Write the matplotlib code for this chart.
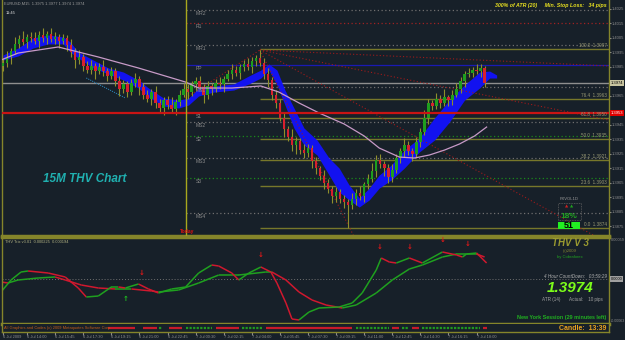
"""EURUSD M15 chart with THV indicator panel (MetaTrader style)."""

import matplotlib.pyplot as plt
from matplotlib.collections import LineCollection
from matplotlib.patches import Rectangle

plt.rcParams["font.family"] = ["Liberation Sans", "DejaVu Sans"]

W, H = 625, 340
BG = "#172029"
OLIVE = "#85852a"
GREY = "#a0a0a0"
BASE = 1.38  # candle values are in pips above this

# --- candles (pips above 1.3800), open = previous close ---
first_open_pips = 186
close_pips = [
    188, 192, 196, 201, 204, 202, 206, 205, 203, 207,
    205, 208, 204, 206, 203, 205, 200, 195, 190, 192,
    186, 183, 186, 182, 185, 182, 179, 182, 175, 170,
    173, 168, 174, 177, 171, 166, 163, 168, 160, 157,
    162, 159, 156, 161, 166, 170, 168, 173, 175, 171,
    166, 172, 170, 174, 173, 177, 180, 183, 181, 185,
    187, 185, 189, 191, 188, 180, 176, 166, 160, 150,
    142, 137, 131, 134, 128, 126, 129, 120, 115, 110,
    105, 101, 96, 99, 94, 92, 90, 94, 98, 96,
    104, 108, 113, 121, 118, 115, 109, 114, 122, 127,
    131, 127, 125, 133, 140, 150, 160, 158, 163, 160,
    164, 162, 166, 170, 175, 180, 181, 183, 182, 184,
    174,
]
wick_up = [
    3, 4, 2, 5, 3, 6, 2, 3, 4, 3,
    5, 2, 4, 3, 2, 3, 2, 4, 3, 5,
    2, 3, 4, 2, 3, 5, 2, 3, 2, 4,
    3, 2, 3, 4, 2, 3, 3, 2, 4, 3,
    2, 3, 5, 2, 3, 4, 3, 2, 3, 4,
    2, 3, 2, 3, 4, 2, 3, 4, 3, 2,
    3, 4, 3, 2, 6, 3, 4, 2, 3, 3,
    4, 2, 5, 3, 2, 4, 3, 2, 3, 2,
    4, 3, 2, 3, 2, 3, 2, 4, 3, 5,
    2, 3, 6, 3, 4, 2, 3, 4, 3, 2,
    5, 3, 2, 4, 3, 5, 3, 2, 4, 3,
    6, 2, 3, 4, 3, 2, 3, 2, 4, 3,
    2,
]
wick_dn = [
    4, 3, 5, 2, 3, 2, 4, 3, 2, 5,
    3, 4, 2, 3, 5, 2, 4, 3, 6, 3,
    4, 2, 3, 5, 2, 3, 4, 2, 3, 5,
    3, 4, 2, 3, 5, 3, 2, 4, 3, 4,
    5, 3, 2, 4, 3, 2, 5, 3, 4, 2,
    6, 3, 4, 2, 3, 5, 2, 3, 2, 4,
    3, 2, 4, 3, 2, 3, 5, 4, 3, 2,
    5, 3, 4, 6, 3, 4, 3, 5, 4, 3,
    4, 3, 5, 4, 3, 4, 16, 3, 4, 3,
    4, 3, 2, 4, 3, 5, 4, 3, 2, 3,
    4, 3, 5, 2, 3, 2, 4, 3, 2, 3,
    2, 4, 3, 2, 3, 4, 2, 3, 2, 4,
    3,
]

# --- pink moving average (pips) ---
ma_bars = [-0.5, 3.75, 13.75, 23.75, 33.75, 45.5, 48.75, 57, 64.25, 68.75,
           73.75, 78.75, 85, 90, 93.75, 98.75, 102.5, 106.25, 110, 113.75,
           117.5, 120.5]
ma_pips = [189.8, 194.6, 198.8, 191.9, 184.3, 174.6, 170.5, 170.5, 171.9, 167.7,
           160.2, 153.3, 145.7, 137.4, 129.1, 122.9, 122.2, 124.3, 127.7, 131.9,
           137.4, 143.6]

# --- blue ribbon (pips) ---
band_bars = [0, 3.75, 7.5, 11.25, 15, 16.75, 18.75, 22.5, 26.25, 30,
             33.75, 36.25, 40, 43.75, 46.25, 48.75, 52.5, 57.5, 61.25, 64.25,
             66.25, 68.25, 70.25, 72.5, 75, 78.25, 81.25, 83.75, 86.25, 88.75,
             91.25, 93.75, 96.75, 100, 103.75, 107.5, 111.25, 115, 118.75, 121.25,
             123]
band_hi = [193.3, 198.1, 205.0, 207.1, 205.7, 202.2, 195.3, 189.8, 184.3, 181.5,
           176.0, 170.5, 163.6, 162.2, 163.6, 170.5, 171.9, 173.3, 178.8, 182.9,
           187.1, 182.9, 169.1, 156.7, 142.9, 134.6, 122.2, 115.3, 103.6, 94.6,
           101.5, 110.5, 117.4, 127.7, 136.0, 149.8, 162.2, 172.6, 181.5, 182.2,
           179.5]
band_lo = [189.8, 192.6, 198.1, 200.9, 200.9, 195.3, 191.2, 184.3, 180.2, 176.0,
           170.5, 164.3, 158.1, 156.7, 158.8, 165.0, 167.7, 169.1, 173.3, 177.4,
           182.9, 172.6, 158.8, 142.9, 131.2, 124.3, 110.5, 98.8, 93.3, 88.4,
           93.3, 101.5, 107.1, 115.3, 126.4, 134.6, 147.1, 162.2, 170.5, 177.4,
           177.4]

# --- pivot levels ---
pivot_names = ["MR2", "R1", "MR1", "PP", "MS1", "S1", "MS2", "S2", "MS3", "S3", "MS4"]
pivot_prices = [1.40243, 1.40153, 1.40002, 1.39864, 1.39712, 1.39533,
                1.39471, 1.39374, 1.39222, 1.39084, 1.38843]
current_price = 1.3974

# --- fibonacci retracement ---
fib_names = ["100.0", "76.4", "61.8", "50.0", "38.2", "23.6", "0.0"]
fib_prices = [1.39974, 1.39629, 1.39498, 1.39353, 1.39209, 1.39029, 1.38740]
fib_start_bar = 64

# --- fan lines (bar0, price0, bar1, price1) ---
fan_lines = [
    (64, 1.39967, 151, 1.39857),
    (64, 1.39967, 151, 1.39484),
    (64, 1.39967, 147.5, 1.38684),
    (64, 1.39967, 87.4, 1.38684),
    (45.5, 1.39636, 64, 1.39967),
]
trend_line = (20.75, 1.39774, 30.5, 1.39636)

# labels at 1.3975 and 1.3955 sit under the price boxes
price_ticks = [1.4025, 1.4015, 1.4005, 1.3995, 1.3985, 1.3965,
               1.3945, 1.3935, 1.3925, 1.3915, 1.3905, 1.3895, 1.3885, 1.3875]

# --- THV Trix lines (units of 1e-6) ---
fast_bars = [-0.5, 2, 4.5, 6.25, 11.25, 15.5, 18.75, 20.75, 23.75, 27,
             28.75, 30.5, 33.75, 36.25, 38.75, 42, 45.5, 48.75, 52, 53.75,
             57, 58.75, 61.25, 64.25, 66.75, 68.25, 70.5, 72, 73.75, 76.25,
             78.75, 83.75, 87, 89.5, 93, 94.25, 96.25, 98, 101.25, 104.5,
             109.5, 113, 114.5, 115.5, 118, 120.5]
fast_vals = [-182, -14, 98, 112, 84, 28, -126, -252, -238, -112,
             -112, -126, -70, -140, -196, -140, -112, 84, 196, 182,
             84, -14, 84, 168, 98, -56, -336, -560, -574, -462,
             -406, -392, -336, -196, 126, 294, 238, 224, 294, 224,
             378, 336, 308, 350, 364, 224]
slow_bars = [-0.5, 1.25, 3.75, 8.75, 13, 15.5, 19.5, 23.75, 28, 32,
             37, 38.75, 43.75, 48.75, 53.75, 58.75, 65.5, 67, 70.5, 73.75,
             77, 80.5, 84.5, 88, 93, 97, 101.25, 104.5, 109.5, 113,
             118, 120]
slow_vals = [-42, -56, -14, 14, 28, -14, -84, -126, -140, -140,
             -168, -182, -154, -56, 56, 56, 98, 98, -14, -182,
             -294, -364, -406, -364, -196, -14, 140, 196, 308, 350,
             350, 308]

sell_arrow_bars = [34.5, 64.25, 93.75, 101.25, 109.5, 115.75]
sell_arrow_vals = [84, 336, 448, 448, 546, 490]
buy_arrow_bars = [30.5]
buy_arrow_vals = [-280]

# --- signal strip ---
strip_start = [26.25, 35, 38.75, 41.25, 45.5, 53, 59.5, 65.5, 88, 97, 99.5, 102, 104.5, 119.5]
strip_end = [33, 38.25, 39.5, 44.5, 52, 58.75, 64.5, 87, 96.25, 98.75, 101.25, 103.75, 118.75, 120.5]
strip_signal = ["sell", "sell", "buy", "sell", "buy", "sell", "buy", "sell", "buy", "sell",
                "buy", "sell", "buy", "sell"]

date_bars = [0, 6, 13, 20, 27, 34, 41, 48, 55, 62, 69, 76, 83, 90, 97, 104, 111, 118]
date_labels = ["6 Jul 2009", "6 Jul 14:00", "6 Jul 15:45", "6 Jul 17:30", "6 Jul 19:15",
               "6 Jul 21:00", "6 Jul 22:45", "7 Jul 00:30", "7 Jul 02:15", "7 Jul 04:00",
               "7 Jul 05:45", "7 Jul 07:30", "7 Jul 09:15", "7 Jul 11:00", "7 Jul 12:45",
               "7 Jul 14:30", "7 Jul 16:15", "7 Jul 18:00"]

XLIM = (-0.25, 151)
YTOP = 1.40312
YBOT = YTOP - 236 / 14500
PX = 1 / 14500  # price per pixel


def to_price(pips):
    return [BASE + p / 10000 for p in pips]


def ftext(x, y, s, **kw):
    kw.setdefault("va", "center")
    fig.text(x / W, 1 - y / H, s, **kw)


def colored_line(ax, xs, ys, lw=1.1):
    segs, cols = [], []
    for i in range(len(xs) - 1):
        segs.append([(xs[i], ys[i]), (xs[i + 1], ys[i + 1])])
        cols.append("#d0182e" if ys[i + 1] < ys[i] else "#1fa01f")
    ax.add_collection(LineCollection(segs, colors=cols, linewidths=lw))


fig = plt.figure(figsize=(W / 100, H / 100), dpi=100, facecolor=BG)

# ---------------- main price panel ----------------
ax = fig.add_axes([2 / W, 1 - 236 / H, 607 / W, 236 / H], facecolor=BG)
ax.set_xlim(*XLIM)
ax.set_ylim(YBOT, YTOP)

closes = to_price(close_pips)
opens = to_price([first_open_pips] + close_pips[:-1])
bars = list(range(len(closes)))
highs = [max(o, c) + u / 10000 for o, c, u in zip(opens, closes, wick_up)]
lows = [min(o, c) - d / 10000 for o, c, d in zip(opens, closes, wick_dn)]

# ribbon and MA
ax.fill_between(band_bars, to_price(band_lo), to_price(band_hi), color="#1212f0", lw=0, zorder=2)

ax.vlines(bars, lows, highs, color="#8f8f2c", lw=0.8, zorder=3)
bull = [c >= o for o, c in zip(opens, closes)]
ax.bar(bars, [max(abs(c - o), 0.00004) for o, c in zip(opens, closes)],
       bottom=[min(o, c) for o, c in zip(opens, closes)], width=0.62,
       color=["#1e9e1e" if b else "#d8202e" for b in bull], lw=0, zorder=4)
ax.plot(ma_bars, to_price(ma_pips), color="#c79ac7", lw=0.9, zorder=5)

# horizontal levels
ax.axhline(current_price, color="#8f8f8f", lw=1, zorder=1)
ax.axhline(pivot_prices[pivot_names.index("S1")], color="#c81414", lw=1.6, zorder=6)
pivot_style = {
    "MR2": dict(color="#6f6f6f", ls=(0, (1, 2))),
    "R1": dict(color="#a02222", ls=(0, (1, 2))),
    "MR1": dict(color="#6f6f6f", ls=(0, (1, 2))),
    "PP": dict(color="#1a1ab4", ls="-"),
    "MS1": dict(color="#6f6f6f", ls=(0, (1, 2))),
    "MS2": dict(color="#6f6f6f", ls=(0, (1, 2))),
    "S2": dict(color="#1a8a1a", ls=(0, (1, 2))),
    "MS3": dict(color="#6f6f6f", ls=(0, (1, 2))),
    "S3": dict(color="#1a8a1a", ls=(0, (1, 2))),
    "MS4": dict(color="#6f6f6f", ls=(0, (1, 2))),
}
for name, p in zip(pivot_names, pivot_prices):
    if name in pivot_style:
        ax.hlines(p, 45.5, XLIM[1], lw=0.9, zorder=1, **pivot_style[name])
    ax.text(48, p - 3.5 * PX, name, color="#8c8c8c", fontsize=3.6, va="center", zorder=7)

for name, p in zip(fib_names, fib_prices):
    ax.hlines(p, fib_start_bar, XLIM[1], color="#77772a", lw=1, zorder=1)
    ax.text(150.4, p + 3.2 * PX, f"{name}  {p:.4f}", color="#9a9a74", fontsize=3.3,
            ha="right", va="center", zorder=7)

for b0, p0, b1, p1 in fan_lines:
    ax.plot([b0, b1], [p0, p1], color="#a01a1a", lw=0.8, ls=(0, (1, 2)), zorder=2)
ax.plot(trend_line[0::2], trend_line[1::2], color="#2a7fb0", lw=0.8, ls=(0, (1, 1)), zorder=2)

ax.axvline(45.5, color="#a8a81e", lw=1, zorder=6)

ax.set_yticks(price_ticks)
ax.set_yticklabels([f"{t:.4f}" for t in price_ticks])
ax.yaxis.tick_right()
ax.tick_params(axis="y", colors="#8c8c8c", labelsize=3.0, length=1.5, pad=0.5)
ax.set_xticks([])
for side in ["left", "right"]:
    ax.spines[side].set_color(OLIVE)
    ax.spines[side].set_linewidth(1)
ax.spines["bottom"].set_color(OLIVE)
ax.spines["bottom"].set_linewidth(2.5)
ax.spines["top"].set_visible(False)

# ---------------- THV Trix panel ----------------
ai = fig.add_axes([2 / W, 1 - 324 / H, 607 / W, 87 / H], facecolor=BG)
ai.set_xlim(*XLIM)
ai.set_ylim(-630, 588)
ai.axhline(0, color="#707070", lw=0.7, ls=(0, (1, 2)))
colored_line(ai, slow_bars, slow_vals)
colored_line(ai, fast_bars, fast_vals)
for b, v in zip(sell_arrow_bars, sell_arrow_vals):
    ai.text(b, v, "\u2193", color="#e01818", fontsize=5, fontweight="bold",
            ha="center", va="center", family=["DejaVu Sans"])
for b, v in zip(buy_arrow_bars, buy_arrow_vals):
    ai.text(b, v, "\u2191", color="#20c020", fontsize=5, fontweight="bold",
            ha="center", va="center", family=["DejaVu Sans"])
ai.set_xticks([])
ai.set_yticks([])
for side in ["left", "right"]:
    ai.spines[side].set_color(OLIVE)
    ai.spines[side].set_linewidth(1)
for side in ["top", "bottom"]:
    ai.spines[side].set_color(OLIVE)
    ai.spines[side].set_linewidth(2.5)

# ---------------- signal strip ----------------
ast = fig.add_axes([2 / W, 1 - 332 / H, 607 / W, 8 / H], facecolor=BG)
ast.set_xlim(*XLIM)
ast.set_ylim(0, 1)
for s, e, sig in zip(strip_start, strip_end, strip_signal):
    if sig == "sell":
        ast.plot([s, e], [0.5, 0.5], color="#c81a2a", lw=1.6, solid_capstyle="butt")
    else:
        ast.plot([s, e], [0.5, 0.5], color="#1f9a1f", lw=1.6, ls=(0, (1, 0.6)))
ast.set_yticks([])
ast.set_xticks(date_bars)
ast.set_xticklabels(date_labels)
for lbl in ast.get_xticklabels():
    lbl.set_ha("left")
ast.tick_params(axis="x", colors="#8c8c8c", labelsize=2.9, length=2, pad=0.5)
for side in ["left", "right", "bottom"]:
    ast.spines[side].set_color(OLIVE)
    ast.spines[side].set_linewidth(1)
ast.spines["top"].set_visible(False)

# ---------------- texts ----------------
ftext(4, 4, "EURUSD,M15  1.3975 1.3977 1.3974 1.3974", color="#9a9a9a", fontsize=2.9)
ftext(6, 13, "11:45", color="#e0e0e0", fontsize=3)
ftext(607, 6, "300% of ATR (20)     Min. Stop Loss:   34 pips", color="#e8e020",
      fontsize=3.8, fontweight="bold", style="italic", ha="right")
ftext(85, 179, "15M THV Chart", color="#20b0b0", fontsize=8.5, fontweight="bold",
      style="italic", ha="center")
ftext(187, 231, "Today", color="#e01010", fontsize=3.6, fontweight="bold", ha="center")

# FXVOL widget
fig.patches.append(Rectangle((558 / W, 1 - 220 / H), 23 / W, 17 / H, transform=fig.transFigure,
                             fill=False, ec="#606060", lw=0.6, ls=(0, (1, 1))))
ftext(569, 199, "FXVOL1D", color="#9a9a9a", fontsize=3, ha="center")
ftext(567, 207, "\u25b2", color="#d02020", fontsize=3, ha="center", family=["DejaVu Sans"])
ftext(572, 207, "\u25b2", color="#20a020", fontsize=3, ha="center", family=["DejaVu Sans"])
ftext(569, 216, "18%", color="#20a020", fontsize=6, fontweight="bold", ha="center")
fig.patches.append(Rectangle((558 / W, 1 - 229 / H), 22 / W, 7 / H, transform=fig.transFigure,
                             color="#22f022", lw=0))
ftext(569, 225.5, "51", color="black", fontsize=6.5, fontweight="bold", ha="center")

# price boxes on the right axis
ftext(611, 83, "1.3974", color="black", fontsize=3.0,
      bbox=dict(facecolor="#c8c4a0", edgecolor="none", pad=0.5))
ftext(611, 113, "1.3953", color="white", fontsize=3.0,
      bbox=dict(facecolor="#e00000", edgecolor="none", pad=0.5))
ftext(611, 240, "0.00059", color="#8c8c8c", fontsize=2.8)
ftext(611, 279, "0.0000", color="black", fontsize=2.8,
      bbox=dict(facecolor="#a0a0a0", edgecolor="none", pad=0.5))
ftext(611, 321, "-0.00063", color="#8c8c8c", fontsize=2.6)

# indicator panel texts
ftext(5, 242, "THV Trix v3.01  0.000225  0.000194", color="#b0b080", fontsize=2.9)
ftext(570, 243, "THV V 3", color="#9a9a30", fontsize=7, fontweight="bold",
      style="italic", ha="center")
ftext(570, 251, "(c)2009", color="#8a8a30", fontsize=3, ha="center")
ftext(570, 257, "by Cobraforex", color="#20a020", fontsize=3, ha="center")
ftext(607, 276, "4 Hour CountDown:   03:59:29", color="#b0b0b0", fontsize=3.3,
      style="italic", ha="right")
ftext(570, 288, "1.3974", color="#7cfc1a", fontsize=11, fontweight="bold",
      style="italic", ha="center")
ftext(603, 300, "ATR (14)       Actual:    10 pips", color="#a0a0a0", fontsize=3.3, ha="right")
ftext(606, 318, "New York Session (29 minutes left)", color="#20b020", fontsize=3.9,
      fontweight="bold", ha="right")
ftext(606, 328, "Candle:  13:39", color="#e8a020", fontsize=5, fontweight="bold", ha="right")
ftext(4, 328, "All Graphics and Codes (c) 2009 Metaquotes Software Corp.", color="#c05a18",
      fontsize=2.9)

fig.savefig("out.png", dpi=100, facecolor=BG)
